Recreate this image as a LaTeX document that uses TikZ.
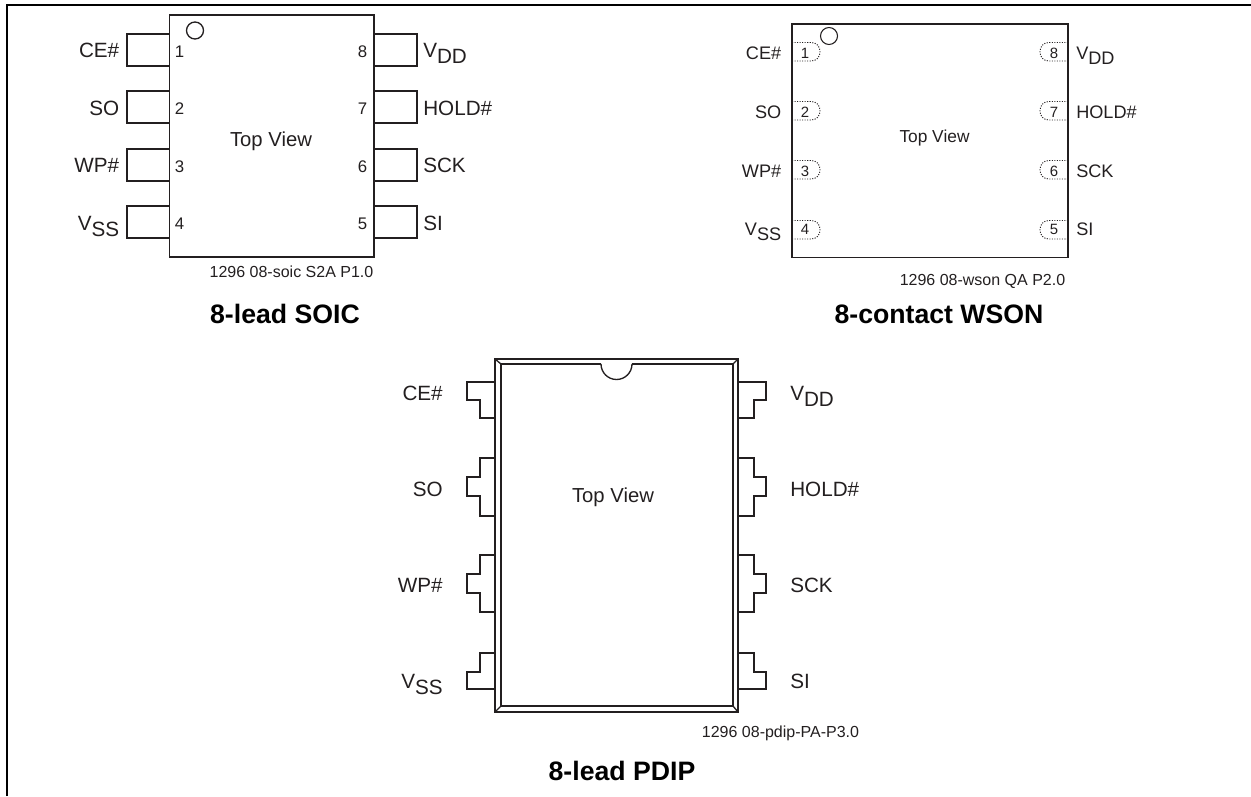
\documentclass[tikz,border=0pt]{standalone}
\usepackage{fontspec}
\setmainfont{Liberation Sans}
\definecolor{inkblack}{RGB}{35,31,32}
\newcommand{\subpin}[2]{#1\raisebox{-0.33em}{#2}}
\tikzset{
  body/.style={draw=inkblack, line width=1pt},
  bodysm/.style={draw=inkblack, line width=0.8pt},
  lead/.style={draw=inkblack, line width=1pt},
  pad/.style={draw=inkblack, line width=0.7pt, dash pattern=on 0.8pt off 1.1pt, rounded corners=6.5pt},
  txt/.style={inner sep=0pt, text=inkblack},
  lname/.style={txt, anchor=base east, font=\fontsize{15.5}{18}\selectfont},
  rname/.style={txt, anchor=base west, font=\fontsize{15.5}{18}\selectfont},
  lnamesm/.style={lname, font=\fontsize{13.6}{16}\selectfont},
  rnamesm/.style={rname, font=\fontsize{13.6}{16}\selectfont},
  pinno/.style={txt, anchor=base, font=\fontsize{12.6}{15}\selectfont},
  pinnosm/.style={txt, anchor=base, font=\fontsize{11.2}{13}\selectfont},
  view/.style={txt, anchor=base, font=\fontsize{15.2}{18}\selectfont},
  viewsm/.style={txt, anchor=base, font=\fontsize{13}{16}\selectfont},
  partno/.style={txt, anchor=base, font=\fontsize{12}{14}\selectfont},
  title/.style={txt, anchor=base, text=black, font=\bfseries\fontsize{20}{24}\selectfont}
}
\begin{document}
\begin{tikzpicture}[x=0.75pt, y=0.75pt]
\useasboundingbox (0, 0) rectangle (1251, -796);
\draw[line width=1.5pt, black] (7, -796) -- (7, -5) -- (1251, -5);
% soic
\draw[body] (169.5, -15) rectangle (374, -257);
\draw[body] (195, -30.5) circle (8.5);
\draw[lead] (169.5, -34) rectangle (127, -66);
\draw[lead] (169.5, -91) rectangle (127, -123);
\draw[lead] (169.5, -149) rectangle (127, -181);
\draw[lead] (169.5, -206) rectangle (127, -238);
\draw[lead] (374, -34) rectangle (417, -66);
\draw[lead] (374, -91) rectangle (417, -123);
\draw[lead] (374, -149) rectangle (417, -181);
\draw[lead] (374, -206) rectangle (417, -238);
\node[lname] (soicce) at (119.5, -57) {CE\#};
\node[lname] (soicso) at (119.5, -115) {SO};
\node[lname] (soicwp) at (119.5, -172.5) {WP\#};
\node[lname] (soicvss) at (119.5, -230) {\subpin{V}{SS}};
\node[rname] (soicvdd) at (423, -57) {\subpin{V}{DD}};
\node[rname] (soichold) at (423, -115) {HOLD\#};
\node[rname] (soicsck) at (423, -172.5) {SCK};
\node[rname] (soicsi) at (423, -230) {SI};
\node[pinno] (soicone) at (179.5, -57) {1};
\node[pinno] (soictwo) at (179.5, -114.5) {2};
\node[pinno] (soicthree) at (179.5, -172.5) {3};
\node[pinno] (soicfour) at (179.5, -229.5) {4};
\node[pinno] (soicfive) at (362.5, -229.5) {5};
\node[pinno] (soicsix) at (362.5, -172.5) {6};
\node[pinno] (soicseven) at (362.5, -114.5) {7};
\node[pinno] (soiceight) at (362.5, -57) {8};
\node[view] (soicview) at (271, -146) {Top View};
\node[partno] (soicpart) at (291.5, -277) {1296 08-soic S2A P1.0};
\node[title] (soictitle) at (285, -323) {8-lead SOIC};
% wson
\draw[bodysm] (792, -24) rectangle (1068, -257.5);
\draw[bodysm] (829, -36) circle (8.5);
\draw[pad] (792, -42.5) -- (820, -42.5) -- (820, -61) -- (792, -61);
\draw[pad] (792, -101.5) -- (820, -101.5) -- (820, -120) -- (792, -120);
\draw[pad] (792, -160.5) -- (820, -160.5) -- (820, -179) -- (792, -179);
\draw[pad] (792, -220.5) -- (820, -220.5) -- (820, -239) -- (792, -239);
\draw[pad] (1068, -42.5) -- (1040, -42.5) -- (1040, -61) -- (1068, -61);
\draw[pad] (1068, -101.5) -- (1040, -101.5) -- (1040, -120) -- (1068, -120);
\draw[pad] (1068, -160.5) -- (1040, -160.5) -- (1040, -179) -- (1068, -179);
\draw[pad] (1068, -220.5) -- (1040, -220.5) -- (1040, -239) -- (1068, -239);
\node[lnamesm] (wsonce) at (781.5, -59) {CE\#};
\node[lnamesm] (wsonso) at (781.5, -118) {SO};
\node[lnamesm] (wsonwp) at (781.5, -177) {WP\#};
\node[lnamesm] (wsonvss) at (781.5, -235) {\subpin{V}{SS}};
\node[rnamesm] (wsonvdd) at (1076, -59) {\subpin{V}{DD}};
\node[rnamesm] (wsonhold) at (1076, -118) {HOLD\#};
\node[rnamesm] (wsonsck) at (1076, -177) {SCK};
\node[rnamesm] (wsonsi) at (1076, -235) {SI};
\node[pinnosm] (wsonone) at (805, -58) {1};
\node[pinnosm] (wsontwo) at (805, -117) {2};
\node[pinnosm] (wsonthree) at (805, -176) {3};
\node[pinnosm] (wsonfour) at (805, -234) {4};
\node[pinnosm] (wsonfive) at (1054, -234) {5};
\node[pinnosm] (wsonsix) at (1054, -176) {6};
\node[pinnosm] (wsonseven) at (1054, -117) {7};
\node[pinnosm] (wsoneight) at (1054, -58) {8};
\node[viewsm] (wsonview) at (934.5, -142) {Top View};
\node[partno] (wsonpart) at (982.5, -285) {1296 08-wson QA P2.0};
\node[title] (wsontitle) at (939, -323) {8-contact WSON};
% pdip
\draw[body] (495, -359) rectangle (738, -712);
\draw[body] (495, -359) -- (501, -364);
\draw[body] (738, -359) -- (733, -364);
\draw[body] (495, -712) -- (501, -706);
\draw[body] (738, -712) -- (733, -706);
\draw[body] (601, -364) -- (501, -364) -- (501, -706) -- (733, -706) -- (733, -364) -- (632, -364);
\draw[body] (601, -364) arc (180:360:15.5);
\draw[lead] (495, -382) -- (467, -382) -- (467, -400) -- (480, -400) -- (480, -418) -- (495, -418);
\draw[lead] (495, -458) -- (480, -458) -- (480, -477) -- (467, -477) -- (467, -496) -- (480, -496) -- (480, -516) -- (495, -516);
\draw[lead] (495, -555) -- (480, -555) -- (480, -574) -- (467, -574) -- (467, -593) -- (480, -593) -- (480, -612) -- (495, -612);
\draw[lead] (495, -653) -- (480, -653) -- (480, -672) -- (467, -672) -- (467, -689) -- (495, -689);
\draw[lead] (738, -382) -- (766, -382) -- (766, -400) -- (754, -400) -- (754, -418) -- (738, -418);
\draw[lead] (738, -458) -- (754, -458) -- (754, -477) -- (766, -477) -- (766, -496) -- (754, -496) -- (754, -516) -- (738, -516);
\draw[lead] (738, -555) -- (754, -555) -- (754, -574) -- (766, -574) -- (766, -593) -- (754, -593) -- (754, -612) -- (738, -612);
\draw[lead] (738, -653) -- (754, -653) -- (754, -672) -- (766, -672) -- (766, -689) -- (738, -689);
\node[lname] (pdipce) at (443, -400) {CE\#};
\node[lname] (pdipso) at (443, -496) {SO};
\node[lname] (pdipwp) at (443, -592) {WP\#};
\node[lname] (pdipvss) at (443, -688) {\subpin{V}{SS}};
\node[rname] (pdipvdd) at (790, -400) {\subpin{V}{DD}};
\node[rname] (pdiphold) at (790, -496) {HOLD\#};
\node[rname] (pdipsck) at (790, -592) {SCK};
\node[rname] (pdipsi) at (790, -688) {SI};
\node[view] (pdipview) at (613, -502) {Top View};
\node[partno] (pdippart) at (780.5, -737) {1296 08-pdip-PA-P3.0};
\node[title] (pdiptitle) at (622, -780) {8-lead PDIP};
\end{tikzpicture}
\end{document}
